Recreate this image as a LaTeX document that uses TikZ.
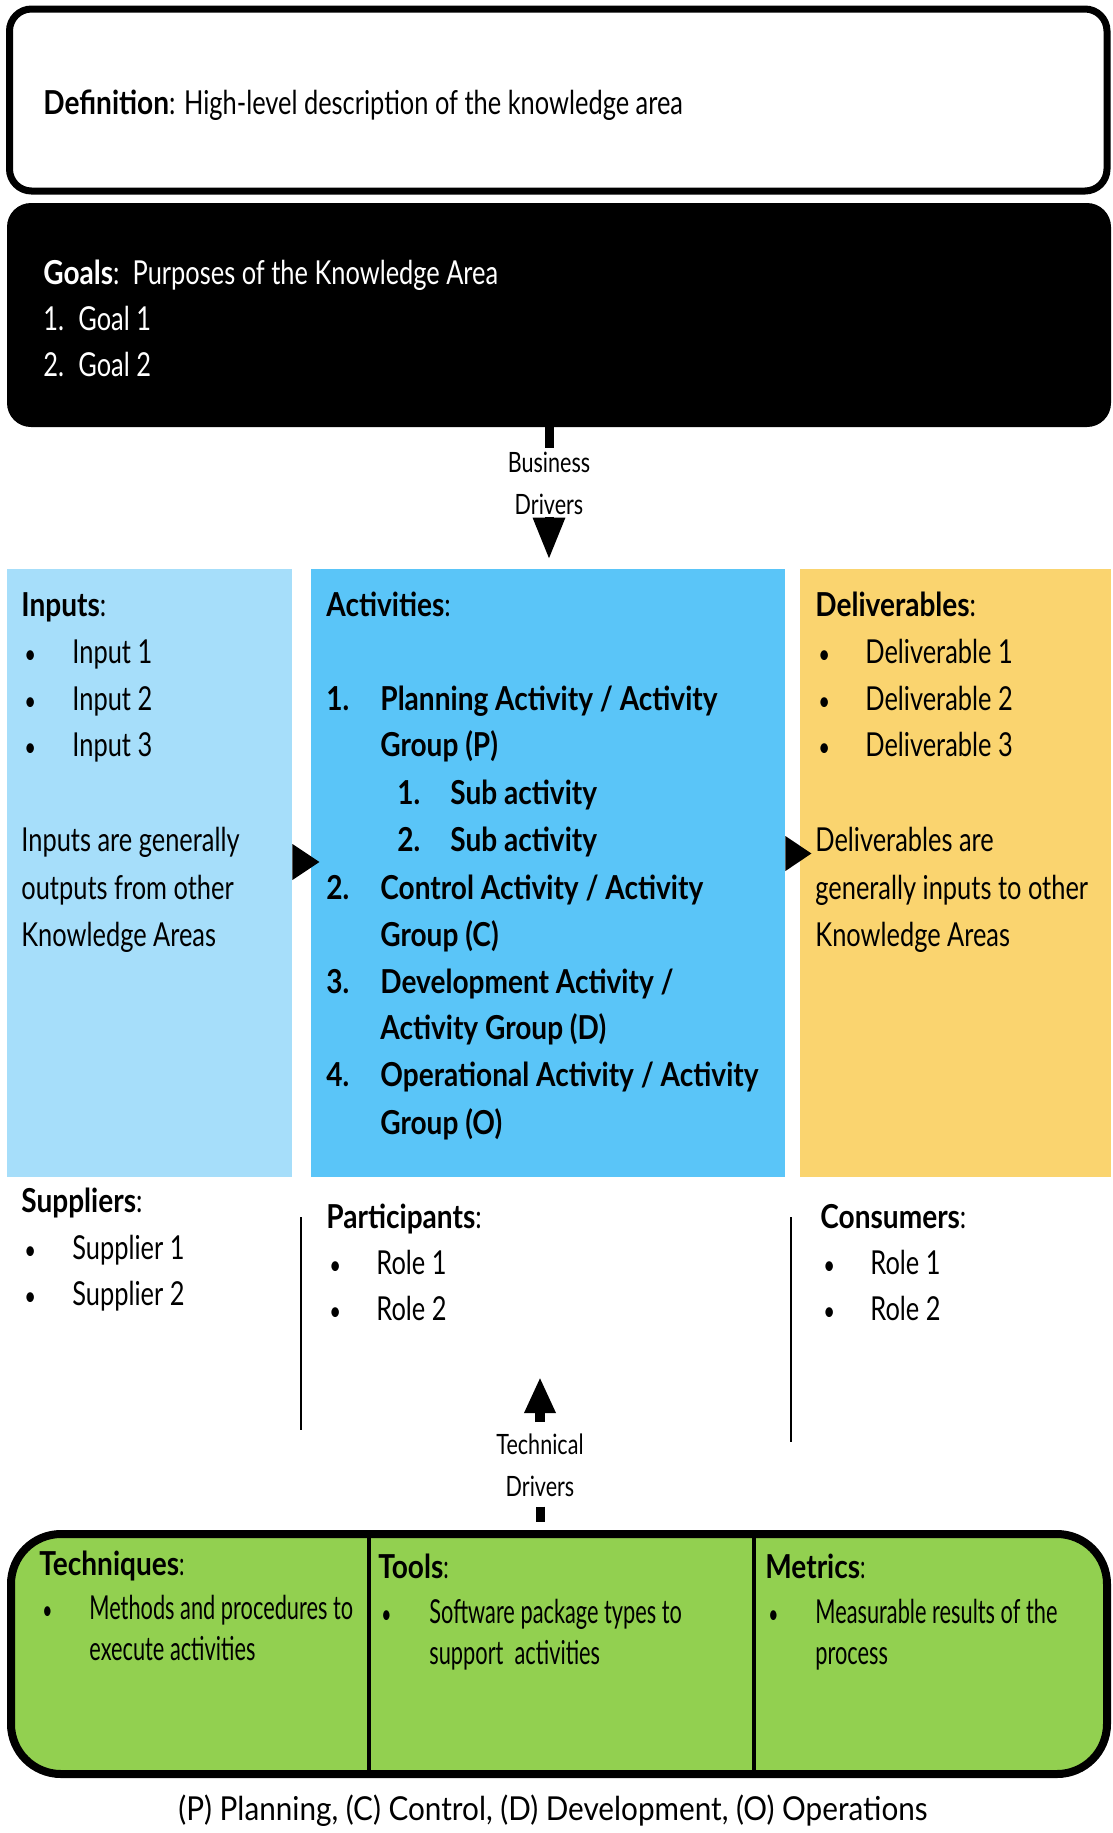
\documentclass[tikz,border=0pt]{standalone}
\usepackage{fontspec}
\setmainfont{Lato}[FakeStretch=0.77, BoldFeatures={FakeStretch=0.85}]
\newfontfamily\narrowfont{Lato}[FakeStretch=0.66, BoldFeatures={FakeStretch=0.85}]
\newfontfamily\legendfont{Lato}[FakeStretch=0.9]
\usetikzlibrary{fit,arrows.meta,calc}
\definecolor{inpblue}{HTML}{A6DEFA}
\definecolor{actblue}{HTML}{5AC5F8}
\definecolor{delyellow}{HTML}{FAD46F}
\definecolor{toolgreen}{HTML}{92D050}
\newcommand\bul{\scalebox{0.8}{•}}

\begin{document}
\begin{tikzpicture}[x=0.5pt,y=-0.5pt,
  txt/.style={anchor=base west, inner sep=0pt, font=\fontsize{16.5}{20}\selectfont},
  btxt/.style={txt, font=\fontsize{16.5}{20}\selectfont\bfseries},
  ctxt/.style={anchor=base west, inner sep=0pt, font=\fontsize{16.5}{20}\selectfont\narrowfont},
  panel/.style={inner sep=0pt},
  drvlabel/.style={anchor=north, inner sep=0pt, align=center, font=\fontsize{14}{21}\selectfont},
  drvstem/.style={line width=4.5pt},
  drvarrow/.style={line width=4.5pt, -{Triangle[length=21pt,width=15pt]}},
  sepline/.style={line width=1pt},
]
\useasboundingbox (0,0) rectangle (1113,1833);

% ---- definition and goals bands ----
\node[panel, fit={(9.5,9) (1107,191)}, draw, line width=3.5pt, rounded corners=11pt] (def) {};
\node[panel, fit={(7,203) (1111,427)}, fill=black, rounded corners=12pt] (goals) {};

\node[txt] (deftxt) at (43,114) {\textbf{Definition}: High-level description of the knowledge area};
\node[txt, text=white] (goalhead) at (43,284) {\textbf{Goals}:\ \ Purposes of the Knowledge Area};
\node[txt, text=white] (goal1) at (43,330) {\makebox[17.5pt][l]{1.}Goal 1};
\node[txt, text=white] (goal2) at (43,376) {\makebox[17.5pt][l]{2.}Goal 2};

% ---- business drivers ----
\node[drvlabel] (bd) at (549,452) {Business\\Drivers};

% ---- the three process panels ----
\node[panel, fit={(7,569) (292,1177)}, fill=inpblue] (inp) {};
\node[panel, fit={(311,569) (785,1177)}, fill=actblue] (act) {};
\node[panel, fit={(800,569) (1111,1177)}, fill=delyellow] (del) {};

\draw[drvstem] (goals.south -| bd) -- ([yshift=2pt]bd.north);
\draw[drvarrow] ([yshift=-1pt]bd.south) -- ([yshift=4.5pt]act.north -| bd);

\fill (inp.east |- 0,844) -- (inp.east |- 0,880) -- ++(27,-18) -- cycle;
\fill (act.east |- 0,836) -- (act.east |- 0,871) -- ++(26,-17.5) -- cycle;

% inputs
\node[txt] (inphead) at (21,616) {\textbf{Inputs}:};
\node[txt] (inp1) at (24,663) {\makebox[24pt][l]{\bul}Input 1};
\node[txt] (inp2) at (24,710) {\makebox[24pt][l]{\bul}Input 2};
\node[txt] (inp3) at (24,756) {\makebox[24pt][l]{\bul}Input 3};
\node[txt] (inpn1) at (21,851) {Inputs are generally};
\node[txt] (inpn2) at (21,899) {outputs from other};
\node[txt] (inpn3) at (21,946) {Knowledge Areas};

% activities
\node[btxt] (acthead) at (326,616) {Activities\mdseries:};
\node[btxt] (act1) at (326,710) {\makebox[27pt][l]{1.}Planning Activity / Activity};
\node[btxt] (act1b) at (380,756) {Group (P)};
\node[btxt] (sub1) at (397,804) {\makebox[26.5pt][l]{1.}Sub activity};
\node[btxt] (sub2) at (397,851) {\makebox[26.5pt][l]{2.}Sub activity};
\node[btxt] (act2) at (326,899) {\makebox[27pt][l]{2.}Control Activity / Activity};
\node[btxt] (act2b) at (380,946) {Group (C)};
\node[btxt] (act3) at (326,993) {\makebox[27pt][l]{3.}Development Activity /};
\node[btxt] (act3b) at (380,1039) {Activity Group (D)};
\node[btxt] (act4) at (326,1086) {\makebox[27pt][l]{4.}Operational Activity / Activity};
\node[btxt] (act4b) at (380,1134) {Group (O)};

% deliverables
\node[txt] (delhead) at (815,616) {\textbf{Deliverables}:};
\node[txt] (del1) at (818,663) {\makebox[23.5pt][l]{\bul}Deliverable 1};
\node[txt] (del2) at (818,710) {\makebox[23.5pt][l]{\bul}Deliverable 2};
\node[txt] (del3) at (818,756) {\makebox[23.5pt][l]{\bul}Deliverable 3};
\node[txt] (deln1) at (815,851) {Deliverables are};
\node[txt] (deln2) at (815,899) {generally inputs to other};
\node[txt] (deln3) at (815,946) {Knowledge Areas};

% ---- suppliers, participants, consumers ----
\draw[sepline] (301,1217) -- (301,1430);
\draw[sepline] (791,1217) -- (791,1442);

\node[txt] (suphead) at (21,1212) {\textbf{Suppliers}:};
\node[txt] (sup1) at (24,1259) {\makebox[24pt][l]{\bul}Supplier 1};
\node[txt] (sup2) at (24,1305) {\makebox[24pt][l]{\bul}Supplier 2};

\node[txt] (parthead) at (326,1228) {\textbf{Participants}:};
\node[txt] (part1) at (329,1274) {\makebox[23.5pt][l]{\bul}Role 1};
\node[txt] (part2) at (329,1320) {\makebox[23.5pt][l]{\bul}Role 2};

\node[txt] (conhead) at (820,1228) {\textbf{Consumers}:};
\node[txt] (con1) at (823,1274) {\makebox[23.5pt][l]{\bul}Role 1};
\node[txt] (con2) at (823,1320) {\makebox[23.5pt][l]{\bul}Role 2};

% ---- technical drivers ----
\node[drvlabel] (td) at (540,1433) {Technical\\Drivers};
\coordinate (techtip) at (540,1377);
\draw[line width=5pt, -{Triangle[length=18pt,width=14.5pt]}] ([yshift=5.5pt]td.north) -- (techtip);

% ---- techniques / tools / metrics ----
\node[panel, fit={(11,1534) (1107,1774)}, draw, fill=toolgreen, line width=4pt, rounded corners=25pt] (ttm) {};
\draw[line width=2pt] (369,0 |- ttm.north) -- (369,0 |- ttm.south);
\draw[line width=2pt] (754,0 |- ttm.north) -- (754,0 |- ttm.south);
\draw[drvstem] ([yshift=-5pt]td.south) -- ([yshift=4pt]ttm.north -| td);

\node[ctxt] (techhead) at (39,1575) {\textbf{Techniques}:};
\node[ctxt] (tech1) at (42,1619) {\makebox[23.5pt][l]{\bul}Methods and procedures to};
\node[ctxt] (tech2) at (89,1660) {execute activities};

\node[ctxt] (toolhead) at (378,1578) {\textbf{Tools}:};
\node[ctxt] (tool1) at (381,1623) {\makebox[24pt][l]{\bul}Software package types to};
\node[ctxt] (tool2) at (429,1664) {support\ \ activities};

\node[ctxt] (methead) at (765,1578) {\textbf{Metrics}:};
\node[ctxt] (met1) at (768,1623) {\makebox[23.5pt][l]{\bul}Measurable results of the};
\node[ctxt] (met2) at (815,1664) {process};

% ---- legend ----
\node[anchor=base, inner sep=0pt, font=\fontsize{16.5}{20}\selectfont\legendfont] (legend) at (553,1820) {(P) Planning, (C) Control, (D) Development, (O) Operations};
\end{tikzpicture}
\end{document}
